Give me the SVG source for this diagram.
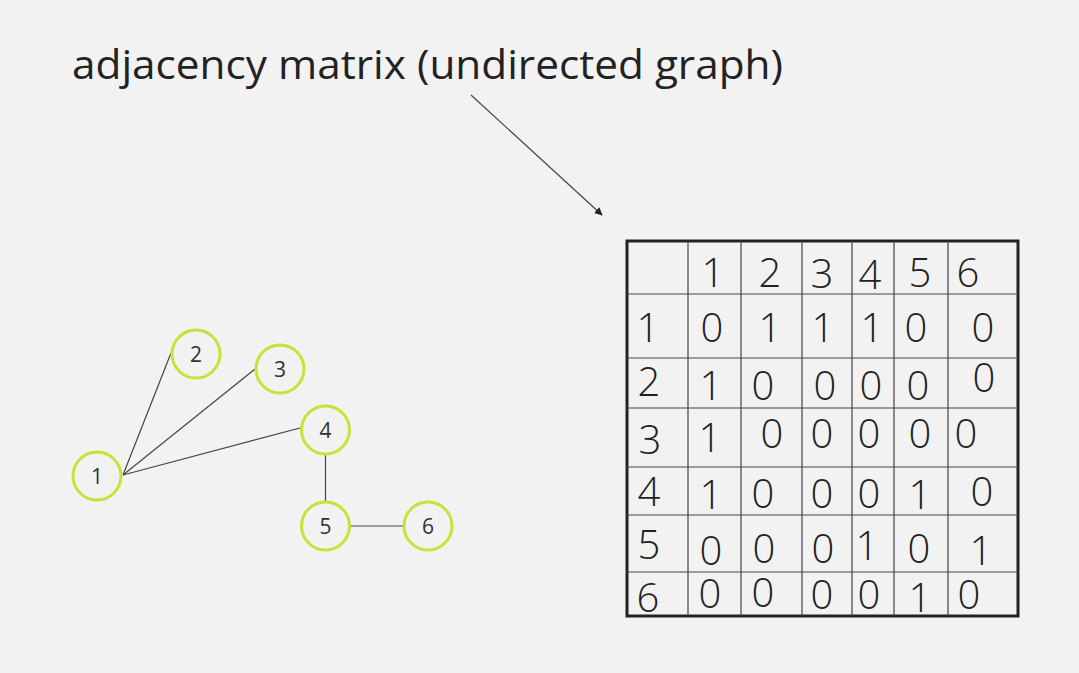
<svg xmlns="http://www.w3.org/2000/svg" width="1079" height="673" viewBox="0 0 1079 673">
<style>
.title{font-family:"Open Sans","Liberation Sans",sans-serif;font-size:40px;fill:#222}
.node circle{fill:#f2f2f2;stroke:#c9e23a;stroke-width:3}
.node text{font-family:"Open Sans","Liberation Sans",sans-serif;font-size:21px;fill:#333;text-anchor:middle}
.edge{stroke:#444;stroke-width:1.2;fill:none}
.grid{stroke:#444;stroke-width:1.2}
.hw{font-family:"Open Sans","Liberation Sans",sans-serif;font-weight:300;font-size:40px;fill:#222;text-anchor:middle}
</style>
<defs>
<marker id="ah" viewBox="0 0 10 10" refX="9" refY="5" markerWidth="8" markerHeight="8" orient="auto" markerUnits="userSpaceOnUse">
<path d="M0,0 L10,5 L0,10 z" fill="#222"/>
</marker>
</defs>
<rect width="1079" height="673" fill="#f2f2f2"/>
<text id="title" class="title" x="72" y="79" textLength="711" lengthAdjust="spacingAndGlyphs">adjacency matrix (undirected graph)</text>
<g id="connectors">
<line class="edge" x1="471" y1="95" x2="602" y2="215" marker-end="url(#ah)"/>
<line class="edge" x1="123" y1="475" x2="171" y2="353"/>
<line class="edge" x1="123" y1="475" x2="255" y2="369"/>
<line class="edge" x1="123" y1="475" x2="300" y2="428"/>
<line class="edge" x1="325.5" y1="454" x2="325.5" y2="502"/>
<line class="edge" x1="350" y1="526" x2="404" y2="526"/>
</g>
<g id="node1" class="node"><circle cx="97" cy="476" r="24"/><text x="97" y="483.5">1</text></g>
<g id="node2" class="node"><circle cx="196" cy="354" r="24"/><text x="196" y="361.5">2</text></g>
<g id="node3" class="node"><circle cx="280" cy="369" r="24"/><text x="280" y="376.5">3</text></g>
<g id="node4" class="node"><circle cx="325.5" cy="430" r="24"/><text x="325.5" y="437.5">4</text></g>
<g id="node5" class="node"><circle cx="325.5" cy="526" r="24"/><text x="325.5" y="533.5">5</text></g>
<g id="node6" class="node"><circle cx="428" cy="526" r="24"/><text x="428" y="533.5">6</text></g>
<g id="matrix">
<rect x="627" y="241" width="391" height="375" fill="none" stroke="#222" stroke-width="3"/>
<g class="grid">
<line x1="688" y1="241" x2="688" y2="616"/>
<line x1="741" y1="241" x2="741" y2="616"/>
<line x1="802" y1="241" x2="802" y2="616"/>
<line x1="852" y1="241" x2="852" y2="616"/>
<line x1="894" y1="241" x2="894" y2="616"/>
<line x1="948" y1="241" x2="948" y2="616"/>
<line x1="627" y1="294" x2="1018" y2="294"/>
<line x1="627" y1="358" x2="1018" y2="358"/>
<line x1="627" y1="408" x2="1018" y2="408"/>
<line x1="627" y1="467" x2="1018" y2="467"/>
<line x1="627" y1="515" x2="1018" y2="515"/>
<line x1="627" y1="572" x2="1018" y2="572"/>
</g>
<g class="hw">
<text x="713" y="287">1</text><text x="770" y="287">2</text><text x="822" y="288">3</text><text x="870" y="289">4</text><text x="920" y="287">5</text><text x="968" y="287">6</text>
<text x="648" y="342">1</text><text x="712" y="342">0</text><text x="770" y="342">1</text><text x="823" y="342">1</text><text x="872" y="342">1</text><text x="916" y="342">0</text><text x="983" y="342">0</text>
<text x="649" y="396">2</text><text x="711" y="400">1</text><text x="763" y="400">0</text><text x="825" y="400">0</text><text x="871" y="400">0</text><text x="918" y="400">0</text><text x="984" y="392">0</text>
<text x="650" y="454">3</text><text x="710" y="452">1</text><text x="772" y="448">0</text><text x="822" y="448">0</text><text x="869" y="448">0</text><text x="920" y="448">0</text><text x="966" y="448">0</text>
<text x="649" y="506">4</text><text x="711" y="509">1</text><text x="763" y="508">0</text><text x="822" y="508">0</text><text x="869" y="508">0</text><text x="920" y="509">1</text><text x="982" y="506">0</text>
<text x="649" y="559">5</text><text x="711" y="565">0</text><text x="764" y="563">0</text><text x="823" y="563">0</text><text x="867" y="560">1</text><text x="919" y="563">0</text><text x="981" y="565">1</text>
<text x="648" y="612">6</text><text x="710" y="608">0</text><text x="763" y="607">0</text><text x="822" y="609">0</text><text x="869" y="609">0</text><text x="920" y="612">1</text><text x="969" y="609">0</text>
</g>
</g>
</svg>
